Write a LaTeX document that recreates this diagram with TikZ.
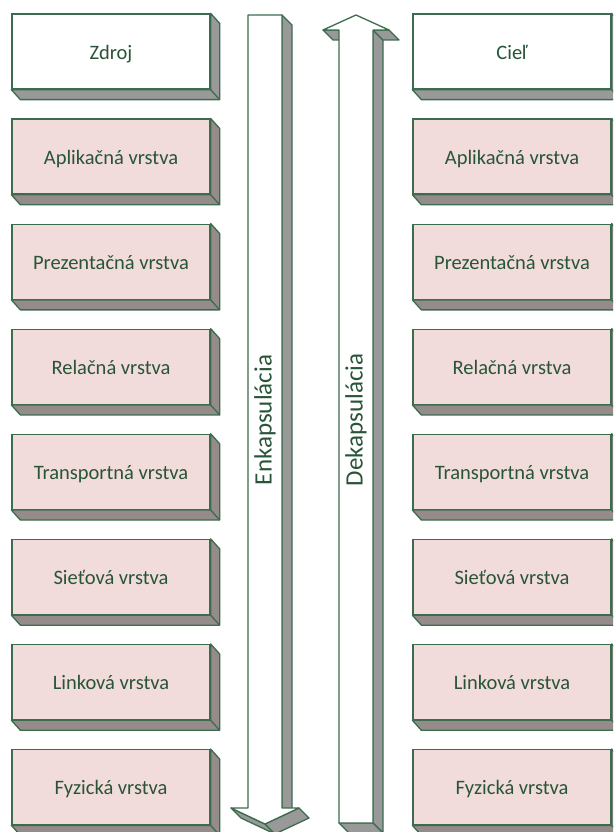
\documentclass[tikz,border=0pt]{standalone}
\usepackage{fontspec}
\setmainfont{Carlito}
\usetikzlibrary{calc}

\definecolor{edge}{RGB}{60,108,78}
\definecolor{ink}{RGB}{40,84,55}
\definecolor{layerfill}{RGB}{242,220,219}
\definecolor{layerside}{RGB}{150,139,139}
\definecolor{plainside}{RGB}{153,153,153}

\tikzset{
  box/.style={draw=edge, line width=1.3pt, minimum width=198pt, minimum height=75pt,
              inner sep=0pt, text height=15.5pt, text depth=0pt,
              text=ink, font=\fontsize{20.5}{24}\selectfont},
  layer/.style={box, fill=layerfill},
  endpoint/.style={box, fill=white},
  face/.style={draw=edge, line width=1.3pt, line join=round},
  arrowlabel/.style={text=ink, rotate=90, inner sep=0pt, font=\fontsize{25}{30}\selectfont},
}

% side and bottom faces of a raised box node
\newcommand\boxsides[2]{%
  \filldraw[face, fill=#2] (#1.north east) -- ++(9,10) -- ($(#1.south east)+(9,10)$)
     -- ($(#1.south west)+(9,10)$) -- (#1.south west) -- (#1.south east) -- cycle;
  \draw[face] (#1.south east) -- ++(9,10);
}

\begin{document}
\begin{tikzpicture}[x=1pt, y=-1pt]
\useasboundingbox (0,0) rectangle (613,832);
\clip (0,0) rectangle (613,832);

% ---- encapsulation arrow (pointing down) ----
\coordinate (eA) at (248,15);  \coordinate (eB) at (282,15);
\coordinate (eC) at (282,808); \coordinate (eD) at (299,808);
\coordinate (eE) at (265,824); \coordinate (eF) at (231,808);
\coordinate (eG) at (248,808);
\filldraw[face, fill=plainside] (eB) -- (eC) -- ++(10,10) -- ($(eB)+(10,10)$) -- cycle;
\filldraw[face, fill=plainside] (eE) -- (eF) -- ++(10,10) -- ($(eE)+(10,10)$) -- cycle;
\filldraw[face, fill=plainside] (eD) -- (eE) -- ++(10,10) -- ($(eD)+(10,10)$) -- cycle;
\filldraw[face, fill=white] (eA) -- (eB) -- (eC) -- (eD) -- (eE) -- (eF) -- (eG) -- cycle;
\node[arrowlabel] (enc) at (265,420) {Enkapsulácia};

% ---- decapsulation arrow (pointing up) ----
\coordinate (dT) at (356,15);   \coordinate (dR) at (389,30);
\coordinate (dRs) at (373,30);  \coordinate (dRb) at (373,823);
\coordinate (dLb) at (339,823); \coordinate (dLs) at (339,30);
\coordinate (dL) at (323,30);
\filldraw[face, fill=plainside] (dRs) -- (dRb) -- ++(10,10) -- ($(dRs)+(10,10)$) -- cycle;
\filldraw[face, fill=plainside] (dLb) -- (dRb) -- ++(10,10) -- ($(dLb)+(10,10)$) -- cycle;
\filldraw[face, fill=plainside] (dL) -- (dLs) -- ++(10,10) -- ($(dL)+(10,10)$) -- cycle;
\filldraw[face, fill=plainside] (dRs) -- (dR) -- ++(10,10) -- ($(dRs)+(10,10)$) -- cycle;
\filldraw[face, fill=white] (dT) -- (dR) -- (dRs) -- (dRb) -- (dLb) -- (dLs) -- (dL) -- cycle;
\node[arrowlabel] (dec) at (356,420) {Dekapsulácia};

% ---- source and destination stacks ----
\node[endpoint] (src) at (111,51.5) {Zdroj};
\node[endpoint] (dst) at (512,51.5) {Cieľ};
\boxsides{src}{plainside}
\boxsides{dst}{plainside}

\foreach \i/\name in {1/Aplikačná vrstva, 2/Prezentačná vrstva, 3/Relačná vrstva,
                      4/Transportná vrstva, 5/Sieťová vrstva, 6/Linková vrstva,
                      7/Fyzická vrstva} {
  \node[layer] (s\i) at (111,51.5+105.1*\i) {\name};
  \boxsides{s\i}{layerside}
  \node[layer] (d\i) at (512,51.5+105.1*\i) {\name};
  \boxsides{d\i}{layerside}
}
\end{tikzpicture}
\end{document}
